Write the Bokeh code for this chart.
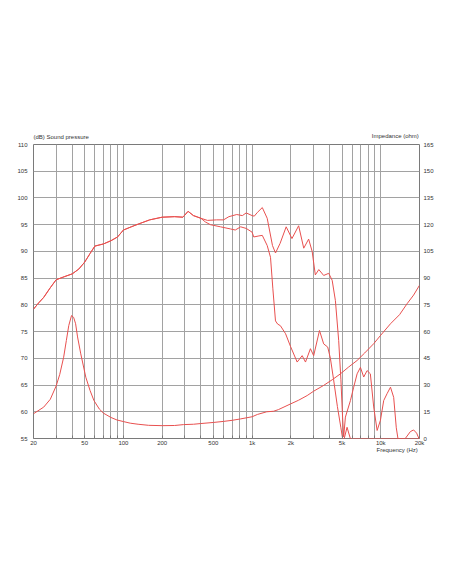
from bokeh.plotting import figure
from bokeh.models import (Range1d, LinearAxis, FixedTicker, Label)
from bokeh.embed import file_html
from bokeh.resources import INLINE

# ---------------- data ----------------
freq_a = [20, 22, 24, 27, 30, 35, 40, 45, 50, 55, 60, 70, 80, 90, 100, 115, 130,
          160, 200, 250, 290, 318, 350, 400, 450, 530, 600, 660, 760, 840, 900,
          1000, 1040, 1100, 1200, 1310, 1440, 1520, 1650, 1840, 2040, 2300, 2520,
          2750, 2930, 3100, 3300, 3600, 3940, 4190, 4440, 4710, 4900, 5050, 5150,
          5310, 5810, 6160, 6550, 6950, 7370, 7830, 8300, 8810, 9370, 9940,
          10540, 11200, 11900, 12600, 13200, 13600, 15500, 17000, 18000, 19000,
          19800, 20000]
spl_a = [79.2, 80.4, 81.4, 83.2, 84.7, 85.3, 85.8, 86.7, 88.0, 89.6, 91.0, 91.4,
         92.0, 92.7, 94.0, 94.6, 95.1, 95.9, 96.4, 96.5, 96.4, 97.5, 96.7, 96.2,
         95.8, 95.9, 95.9, 96.5, 96.9, 96.7, 97.2, 96.7, 96.6, 97.3, 98.2, 96.2,
         91.1, 89.7, 91.5, 94.6, 92.4, 94.8, 90.6, 92.3, 90.0, 85.6, 86.6, 85.5,
         85.9, 84.6, 80.8, 73.3, 66.0, 59.0, 55.3, 59.0, 62.1, 64.6, 67.1, 68.3,
         66.5, 67.7, 67.1, 60.9, 56.5, 58.4, 62.1, 63.4, 64.6, 62.7, 57.0, 55.0,
         55.0, 56.3, 56.6, 56.0, 55.0, 55.0]

freq_b = [20, 22, 24, 27, 30, 35, 40, 45, 50, 55, 60, 70, 80, 90, 100, 115, 130,
          160, 200, 250, 290, 318, 350, 400, 434, 474, 568, 680, 740, 815, 900,
          1000, 1030, 1130, 1200, 1310, 1390, 1450, 1520, 1580, 1660, 1820, 1990,
          2240, 2450, 2600, 2840, 3010, 3340, 3600, 3870, 4060, 4300, 4600, 4900,
          5050, 5200, 5470, 5800, 20000]
spl_b = [79.2, 80.4, 81.4, 83.2, 84.7, 85.3, 85.8, 86.7, 88.0, 89.6, 91.0, 91.4,
         92.0, 92.7, 94.0, 94.6, 95.1, 95.9, 96.4, 96.5, 96.4, 97.5, 96.7, 96.2,
         95.5, 95.0, 94.6, 94.2, 94.0, 94.6, 94.3, 93.6, 92.7, 92.9, 93.0, 91.1,
         88.9, 83.0, 77.0, 76.4, 76.1, 74.6, 72.2, 69.3, 70.5, 69.3, 71.8, 70.5,
         75.2, 72.7, 72.1, 70.0, 66.0, 61.0, 57.0, 55.0, 55.0, 57.1, 55.0, 55.0]

freq_z = [20, 24, 27, 30, 32, 34.3, 36, 37.6, 39.5, 41, 42.5, 44, 46.6, 51, 55,
          59, 65, 70, 80, 89, 100, 113, 130, 157, 200, 250, 293, 350, 400, 500,
          600, 700, 815, 1000, 1100, 1300, 1470, 1600, 1990, 2300, 2680, 3000,
          3600, 4200, 4860, 5600, 6550, 7500, 8810, 10000, 11900, 14000, 16000,
          18000, 20000]
imp = [13.9, 17.6, 22.0, 29.5, 36.0, 45.6, 55.0, 63.4, 69.0, 68.0, 64.4, 57.0,
       47.5, 34.4, 27.0, 21.3, 16.5, 14.2, 11.8, 10.4, 9.5, 8.6, 8.0, 7.4, 7.2,
       7.3, 7.8, 8.0, 8.4, 9.0, 9.6, 10.2, 11.0, 12.2, 13.5, 15.0, 15.3, 16.2,
       19.4, 21.5, 24.1, 26.5, 29.8, 33.0, 36.3, 40.0, 43.8, 48.0, 53.2, 58.0,
       64.4, 69.5, 75.6, 80.5, 86.0]

x_grid = [20, 30, 40, 50, 60, 70, 80, 90, 100, 200, 300, 400, 500, 600, 700,
          800, 900, 1000, 2000, 3000, 4000, 5000, 6000, 7000, 8000, 9000,
          10000, 20000]
x_labels = {20: "20", 50: "50", 100: "100", 200: "200", 500: "500",
            1000: "1k", 2000: "2k", 5000: "5k", 10000: "10k", 20000: "20k"}
db_ticks = list(range(55, 111, 5))
ohm_ticks = list(range(0, 166, 15))

# ---------------- style ----------------
FONT = "Liberation Sans"
FS = "6px"
TXT = "#333333"
RED = "#e8504f"
GRID = "#a2a2a2"

p = figure(width=452, height=584, x_axis_type="log",
           x_range=Range1d(20, 20000), y_range=Range1d(55, 110),
           output_backend="svg", toolbar_location=None,
           min_border_left=33, min_border_right=33,
           min_border_top=144, min_border_bottom=146,
           background_fill_color="white", border_fill_color="white")
p.outline_line_color = "#7a7a7a"
p.extra_y_ranges = {"imp": Range1d(0, 165)}

# grid
p.xgrid.ticker = FixedTicker(ticks=x_grid)
p.ygrid.ticker = FixedTicker(ticks=db_ticks)
for g in (p.xgrid, p.ygrid):
    g.grid_line_color = GRID
    g.grid_line_width = 1

# bottom axis
xa = p.xaxis[0]
xa.ticker = FixedTicker(ticks=x_grid)
xa.major_label_overrides = {t: x_labels.get(t, "") for t in x_grid}
xa.major_tick_in = 3
xa.major_tick_out = 0
xa.minor_tick_line_color = None
xa.axis_line_color = None
xa.major_tick_line_color = "#7a7a7a"
xa.major_label_standoff = 1

# left axis
ya = p.yaxis[0]
ya.ticker = FixedTicker(ticks=db_ticks)
ya.major_tick_in = 0
ya.major_tick_out = 0
ya.minor_tick_line_color = None
ya.axis_line_color = None
ya.major_label_standoff = 6

# right axis
ra = LinearAxis(y_range_name="imp", ticker=FixedTicker(ticks=ohm_ticks))
ra.major_tick_in = 0
ra.major_tick_out = 0
ra.minor_tick_line_color = None
ra.axis_line_color = None
ra.major_label_standoff = 4
p.add_layout(ra, "right")

for ax in (xa, ya, ra):
    ax.major_label_text_font = FONT
    ax.major_label_text_font_size = FS
    ax.major_label_text_color = TXT

# curves
p.line(freq_z, imp, y_range_name="imp", line_color=RED, line_width=1)
p.line(freq_b, spl_b, line_color=RED, line_width=1)
p.line(freq_a, spl_a, line_color=RED, line_width=1)

# captions: placed in side panels (screen units relative to the panel)
def cap(x, y, t, align, side):
    p.add_layout(Label(x=x, y=y, x_units="screen", y_units="screen", text=t,
                       text_font=FONT, text_font_size=FS, text_color=TXT,
                       text_align=align, text_baseline="middle"), side)

cap(0, 8, "(dB)  Sound pressure", "left", "above")
cap(387, 3, "Impedance  (ohm)", "right", "above")
cap(386, 5, "Frequency  (Hz)", "right", "below")

open("out.html", "w").write(file_html(p, INLINE))
